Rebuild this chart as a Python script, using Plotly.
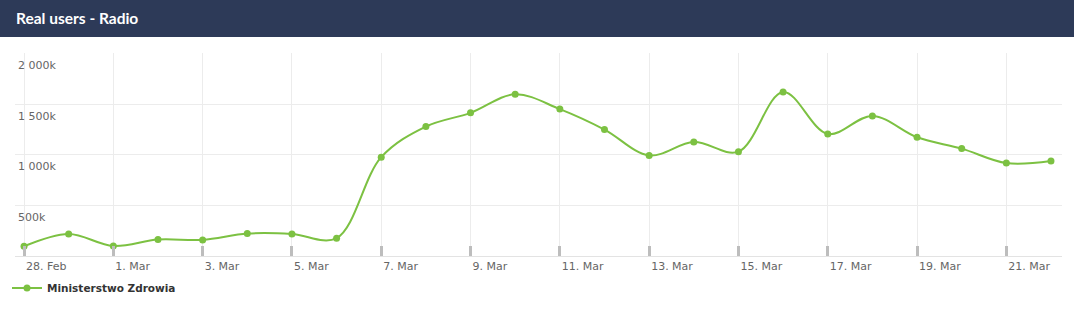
import plotly.graph_objects as go

dates = ["2020-02-28", "2020-02-29", "2020-03-01", "2020-03-02", "2020-03-03", "2020-03-04",
         "2020-03-05", "2020-03-06", "2020-03-07", "2020-03-08", "2020-03-09", "2020-03-10",
         "2020-03-11", "2020-03-12", "2020-03-13", "2020-03-14", "2020-03-15", "2020-03-16",
         "2020-03-17", "2020-03-18", "2020-03-19", "2020-03-20", "2020-03-21", "2020-03-22"]
users = [96000, 218000, 99000, 162000, 159000, 221000,
         218000, 176000, 976000, 1278000, 1413000, 1596000,
         1450000, 1248000, 993000, 1125000, 1030000, 1619000,
         1205000, 1383000, 1172000, 1060000, 917000, 937000]
series_name = "Ministerstwo Zdrowia"
title_text = "Real users - Radio"

x_tickvals = ["2020-02-28", "2020-03-01", "2020-03-03", "2020-03-05", "2020-03-07", "2020-03-09",
              "2020-03-11", "2020-03-13", "2020-03-15", "2020-03-17", "2020-03-19", "2020-03-21"]
x_ticktext = ["28. Feb", "1. Mar", "3. Mar", "5. Mar", "7. Mar", "9. Mar",
              "11. Mar", "13. Mar", "15. Mar", "17. Mar", "19. Mar", "21. Mar"]
y_tickvals = [500000, 1000000, 1500000, 2000000]
y_ticktext = ["500k", "1 000k", "1 500k", "2 000k"]
y_range = [0, 2004000]

W, H = 1074, 314
ML, MR, MT, MB = 15, 12, 53, 58
plot_h = H - MT - MB
plot_w = W - ML - MR


def py(p):
    return (H - MB - p) / plot_h


def px(p):
    return (p - ML) / plot_w


fig = go.Figure()
fig.add_trace(go.Scatter(
    x=dates, y=users, name=series_name, mode="lines+markers",
    line=dict(color="#7cc142", width=2, shape="spline", smoothing=1),
    marker=dict(color="#7cc142", size=7, symbol="circle"),
    showlegend=True,
))

# y-axis labels sit inside the plot, just below each gridline (positioned on the y scale)
y_label_annotations = [
    dict(text=t, xref="paper", yref="y", x=px(16), y=v,
         xanchor="left", yanchor="middle", yshift=-12, showarrow=False,
         font=dict(family="DejaVu Sans", size=11, color="#666666"))
    for v, t in zip(y_tickvals, y_ticktext)
]

fig.update_layout(
    template="none",
    width=W, height=H,
    margin=dict(l=ML, r=MR, t=MT, b=MB, pad=0, autoexpand=False),
    paper_bgcolor="white", plot_bgcolor="white",
    font=dict(family="DejaVu Sans", size=11, color="#666666"),
    showlegend=True,
    legend=dict(orientation="h", x=px(7), xanchor="left", y=py(288), yanchor="middle",
                font=dict(family="DejaVu Sans", size=10.5, color="#333333", weight="bold"),
                bgcolor="rgba(0,0,0,0)", itemwidth=30),
    xaxis=dict(
        type="date",
        automargin=False,
        range=["2020-02-27 19:09", "2020-03-22 05:55"],
        tickvals=x_tickvals, ticktext=x_ticktext,
        ticks="inside", ticklen=10, tickwidth=3, tickcolor="#bdbdbd",
        ticklabelposition="outside right",
        ticklabeloverflow="allow",
        showgrid=True, gridcolor="#ececec", gridwidth=1,
        showline=True, linecolor="#e3e3e3", linewidth=1,
        zeroline=False,
        tickfont=dict(family="DejaVu Sans", size=11, color="#666666"),
        fixedrange=True,
    ),
    yaxis=dict(
        range=y_range,
        automargin=False,
        tickvals=y_tickvals,
        showticklabels=False,
        ticks="",
        showgrid=True, gridcolor="#ececec", gridwidth=1,
        zeroline=False, showline=False,
        fixedrange=True,
    ),
    shapes=[dict(type="rect", xref="paper", yref="paper",
                 x0=px(-5), x1=px(W + 5), y0=py(37), y1=py(-5),
                 fillcolor="#2d3a58", line=dict(width=0), layer="above")],
    annotations=[dict(text=title_text, xref="paper", yref="paper",
                      x=px(14), y=py(17.5), xanchor="left", yanchor="middle",
                      showarrow=False,
                      font=dict(family="Lato", size=15.5, color="white", weight="bold"))]
                + y_label_annotations,
)

fig.write_html("out.html")
